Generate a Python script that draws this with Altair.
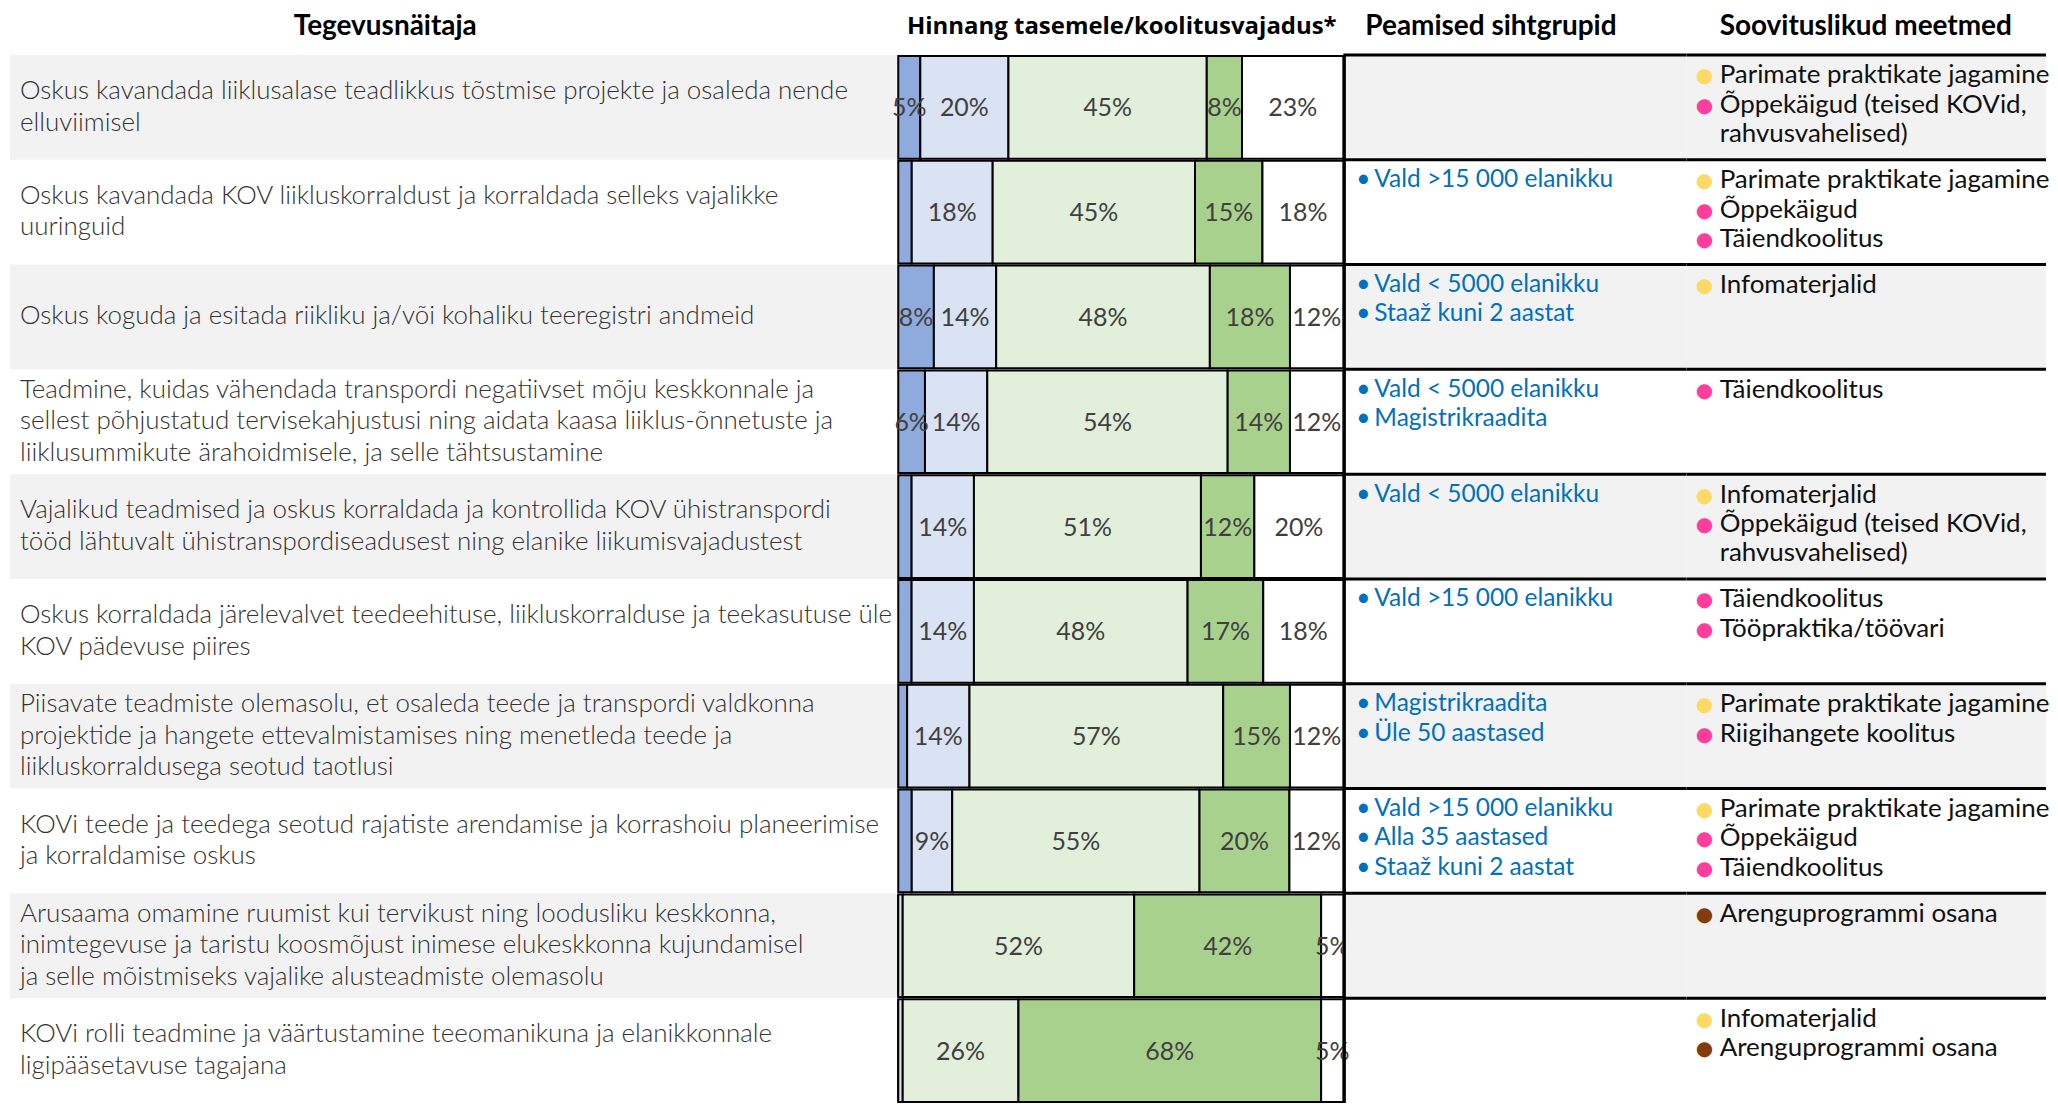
import altair as alt
import pandas as pd

# ---------------- data ----------------
row_ids = list(range(10))

activity_lines = [
    ["Oskus kavandada liiklusalase teadlikkus tõstmise projekte ja osaleda nende", "elluviimisel"],
    ["Oskus kavandada KOV liikluskorraldust ja korraldada selleks vajalikke", "uuringuid"],
    ["Oskus koguda ja esitada riikliku ja/või kohaliku teeregistri andmeid"],
    ["Teadmine, kuidas vähendada transpordi negatiivset mõju keskkonnale ja",
     "sellest põhjustatud tervisekahjustusi ning aidata kaasa liiklus-õnnetuste ja",
     "liiklusummikute ärahoidmisele, ja selle tähtsustamine"],
    ["Vajalikud teadmised ja oskus korraldada ja kontrollida KOV ühistranspordi",
     "tööd lähtuvalt ühistranspordiseadusest ning elanike liikumisvajadustest"],
    ["Oskus korraldada järelevalvet teedeehituse, liikluskorralduse ja teekasutuse üle",
     "KOV pädevuse piires"],
    ["Piisavate teadmiste olemasolu, et osaleda teede ja transpordi valdkonna",
     "projektide ja hangete ettevalmistamises ning menetleda teede ja",
     "liikluskorraldusega seotud taotlusi"],
    ["KOVi teede ja teedega seotud rajatiste arendamise ja korrashoiu planeerimise",
     "ja korraldamise oskus"],
    ["Arusaama omamine ruumist kui tervikust ning loodusliku keskkonna,",
     "inimtegevuse ja taristu koosmõjust inimese elukeskkonna kujundamisel",
     "ja selle mõistmiseks vajalike alusteadmiste olemasolu"],
    ["KOVi rolli teadmine ja väärtustamine teeomanikuna ja elanikkonnale",
     "ligipääsetavuse tagajana"],
]

segments = ["s1", "s2", "s3", "s4", "s5"]
seg_colors = ["#8faadc", "#dae3f3", "#e2efda", "#a9d18e", "#ffffff"]
v_s1 = [5, 3, 8, 6, 3, 3, 2, 3, 0, 0]
v_s2 = [20, 18, 14, 14, 14, 14, 14, 9, 1, 1]
v_s3 = [45, 45, 48, 54, 51, 48, 57, 55, 52, 26]
v_s4 = [8, 15, 18, 14, 12, 17, 15, 20, 42, 68]
v_s5 = [23, 18, 12, 12, 20, 18, 12, 12, 5, 5]

target_groups = [
    [],
    ["Vald >15 000 elanikku"],
    ["Vald < 5000 elanikku", "Staaž kuni 2 aastat"],
    ["Vald < 5000 elanikku", "Magistrikraadita"],
    ["Vald < 5000 elanikku"],
    ["Vald >15 000 elanikku"],
    ["Magistrikraadita", "Üle 50 aastased"],
    ["Vald >15 000 elanikku", "Alla 35 aastased", "Staaž kuni 2 aastat"],
    [],
    [],
]

# (text, bullet kind) ; "" = continuation line without bullet
measures = [
    [("Parimate praktikate jagamine", "Y"), ("Õppekäigud (teised KOVid,", "P"), ("rahvusvahelised)", "")],
    [("Parimate praktikate jagamine", "Y"), ("Õppekäigud", "P"), ("Täiendkoolitus", "P")],
    [("Infomaterjalid", "Y")],
    [("Täiendkoolitus", "P")],
    [("Infomaterjalid", "Y"), ("Õppekäigud (teised KOVid,", "P"), ("rahvusvahelised)", "")],
    [("Täiendkoolitus", "P"), ("Tööpraktika/töövari", "P")],
    [("Parimate praktikate jagamine", "Y"), ("Riigihangete koolitus", "P")],
    [("Parimate praktikate jagamine", "Y"), ("Õppekäigud", "P"), ("Täiendkoolitus", "P")],
    [("Arenguprogrammi osana", "B")],
    [("Infomaterjalid", "Y"), ("Arenguprogrammi osana", "B")],
]
bullet_kinds = ["Y", "P", "B"]
bullet_colors = ["#ffd966", "#ff3d9e", "#843c0c"]

headers = ["Tegevusnäitaja", "Hinnang tasemele/koolitusvajadus*",
           "Peamised sihtgrupid", "Soovituslikud meetmed"]

# ---------------- tables ----------------
shade_df = pd.DataFrame({"row": [r for r in row_ids if r % 2 == 0]})
all_rows_df = pd.DataFrame({"row": row_ids})

act_df = pd.DataFrame({"row": row_ids,
                       "text": ["\n".join(l) for l in activity_lines],
                       "n": [len(l) for l in activity_lines]})

vals = [v_s1, v_s2, v_s3, v_s4, v_s5]
bar_df = pd.DataFrame([
    {"row": r, "seg": segments[k], "order": k, "value": vals[k][r]}
    for r in row_ids for k in range(5)
])

tg_df = pd.DataFrame([{"row": r, "line": i, "text": t}
                      for r, g in enumerate(target_groups) for i, t in enumerate(g)])
me_df = pd.DataFrame([{"row": r, "line": i, "text": t, "kind": k}
                      for r, m in enumerate(measures) for i, (t, k) in enumerate(m)])

H = 1050
HH = 44
WA, WB, WC, WD = 892, 446, 344, 360
LH = 29.5
LH1 = 31.5
TOP = 20.5  # centre of first line below row top
TEXT_FONT = "Lato"

yband = alt.Y("row:O", scale=alt.Scale(domain=row_ids, paddingInner=0, paddingOuter=0), axis=None)
ytop = alt.Y("row:O", scale=alt.Scale(domain=row_ids, paddingInner=0, paddingOuter=0), axis=None, bandPosition=0)


def header(k, width, x, align, font="Lato", size=28):
    return alt.Chart(pd.DataFrame({"h": [headers[k]]})).mark_text(
        align=align, baseline="middle", font=font, fontSize=size, fontWeight="bold",
        color="#000000").encode(x=alt.value(x), y=alt.value(18), text="h:N").properties(
        width=width, height=HH)


def shade(width, x0=0):
    return alt.Chart(shade_df).mark_rect(color="#f2f2f2").encode(
        y=yband, x=alt.value(x0), x2=alt.value(width))


def lines(df, dy0, filt=None, **kw):
    out = []
    for i in range(3):
        c = alt.Chart(df).transform_filter(f"datum.line == {i}")
        if filt:
            c = c.transform_filter(filt)
        out.append(c.mark_text(align="left", baseline="middle", dy=dy0 + i * LH, **kw))
    return out


# ---- Panel A: activities ----
act_layers = [shade(WA, 2)]
for n in (1, 2, 3):
    act_layers.append(
        alt.Chart(act_df).transform_filter(f"datum.n == {n}").mark_text(
            align="left", baseline="middle", lineBreak="\n", lineHeight=LH1,
            font=TEXT_FONT, fontWeight=300, fontSize=26, color="#333333",
            dy=-(n - 1) * LH1 / 2 - 0.5).encode(y=yband, x=alt.value(12), text="text:N")
    )
pA = alt.layer(*act_layers).properties(width=WA, height=H)

# ---- Panel B: bars ----
ybar = alt.Y("row:O", scale=alt.Scale(domain=row_ids, paddingInner=0.02, paddingOuter=0.01), axis=None)
base_b = alt.Chart(bar_df).transform_stack(
    stack="value", groupby=["row"], as_=["x0", "x1"], offset="normalize",
    sort=[alt.SortField("order", "ascending")])
bars = base_b.mark_rect(stroke="#000000", strokeWidth=2).encode(
    y=ybar,
    x=alt.X("x0:Q", scale=alt.Scale(domain=[0, 1]), axis=None),
    x2="x1:Q",
    color=alt.Color("seg:N", scale=alt.Scale(domain=segments, range=seg_colors), legend=None),
)
labels = base_b.transform_filter("datum.value >= 5").transform_calculate(
    mid="(datum.x0 + datum.x1) / 2", lab="datum.value + '%'").mark_text(
    font="Lato", fontSize=25, color="#404040", baseline="middle", dy=1).encode(
    y=ybar, x=alt.X("mid:Q", scale=alt.Scale(domain=[0, 1]), axis=None), text="lab:N")
pB = alt.layer(bars, labels).properties(width=WB, height=H)

# ---- Panel C: target groups ----
rulesC = alt.Chart(all_rows_df).mark_rule(color="#000000", strokeWidth=3).encode(
    y=ytop, x=alt.value(0), x2=alt.value(WC))
vline = alt.Chart(all_rows_df.head(1)).mark_rule(color="#000000", strokeWidth=3).encode(
    x=alt.value(1), y=alt.value(0), y2=alt.value(H))
tg_layers = []
for m in lines(tg_df, TOP, font=TEXT_FONT, fontSize=24.5, color="#0070c0"):
    tg_layers.append(m.encode(y=ytop, x=alt.value(31), text="text:N"))
for m in lines(tg_df, TOP, font=TEXT_FONT, fontSize=24.5, color="#0070c0"):
    tg_layers.append(m.encode(y=ytop, x=alt.value(13), text=alt.value("•")))
pC = alt.layer(shade(WC), rulesC, vline, *tg_layers).properties(width=WC, height=H)

# ---- Panel D: measures ----
rulesD = alt.Chart(all_rows_df).mark_rule(color="#000000", strokeWidth=3).encode(
    y=ytop, x=alt.value(0), x2=alt.value(WD))
me_layers = []
for m in lines(me_df, TOP, font=TEXT_FONT, fontSize=26, color="#111111"):
    me_layers.append(m.encode(y=ytop, x=alt.value(33), text="text:N"))
for m in lines(me_df, TOP + 1, filt="datum.kind != ''", font="DejaVu Sans", fontSize=20):
    me_layers.append(m.encode(
        y=ytop, x=alt.value(9), text=alt.value("●"),
        color=alt.Color("kind:N", scale=alt.Scale(domain=bullet_kinds, range=bullet_colors), legend=None)))
pD = alt.layer(shade(WD), rulesD, *me_layers).properties(width=WD, height=H)

head = alt.HConcatChart(hconcat=[
    header(0, WA, 378, "center"),
    header(1, WB, 224, "center", "Open Sans", 24),
    header(2, WC, 22, "left"),
    header(3, WD, 33, "left"),
], spacing=0, bounds="flush")

body = alt.HConcatChart(hconcat=[pA, pB, pC, pD], spacing=0, bounds="flush").resolve_scale(
    x="independent", y="independent", color="independent")

chart = alt.VConcatChart(vconcat=[head, body], spacing=0, padding=0, bounds="full").resolve_scale(
    x="independent", y="independent", color="independent").configure_view(strokeWidth=0)

chart.save("out.html", embed_options={"renderer": "svg", "actions": False})
